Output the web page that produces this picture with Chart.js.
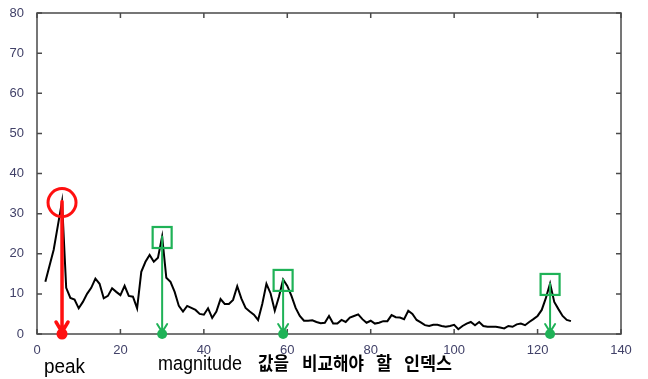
<!DOCTYPE html>
<html>
<head>
<meta charset="utf-8">
<script src="https://cdn.jsdelivr.net/npm/chart.js@4"></script>
<style>
  body { margin: 0; background: #fff; }
  #wrap { width: 648px; height: 379px; position: relative; }
</style>
</head>
<body>
<div id="wrap"><canvas id="magChart"></canvas></div>
<script>
// magnitude per index, starting at index 2
const firstIndex = 2;
const magnitude = [
  13, 17, 21, 27, 33, 11.5, 9, 8.6, 6.4, 8,
  10, 11.5, 13.8, 12.5, 8.9, 9.5, 11.4, 10.5, 9.7, 12,
  9.5, 9.3, 6.4, 15.5, 18, 19.7, 18, 19, 24.3, 14,
  13, 10.5, 7, 5.6, 7, 6.5, 6, 5, 4.8, 6.4,
  4, 5.6, 8.7, 7.5, 7.5, 8.5, 11.9, 8.8, 6.5, 5.6,
  4.8, 3.5, 7.5, 12.5, 10.1, 5.8, 9.3, 13.6, 12, 9.5,
  6.5, 4.5, 3.3, 3.3, 3.4, 3, 2.7, 2.8, 4.5, 2.6,
  2.6, 3.5, 3, 4.1, 4.5, 4.9, 3.7, 2.8, 3.3, 2.6,
  2.8, 3.2, 3.2, 4.7, 4.2, 4.1, 3.7, 5.8, 5, 3.5,
  2.9, 2.2, 2, 2.3, 2.3, 2, 1.8, 2, 2.3, 1.2,
  2, 2.6, 3, 2.2, 3, 2, 1.8, 1.8, 1.8, 1.6,
  1.4, 2, 1.8, 2.4, 2.6, 2.2, 3, 3.7, 4.5, 6,
  9, 12.6, 8, 6.2, 4.5, 3.5, 3.2
];
const xTicks = [0, 20, 40, 60, 80, 100, 120, 140];
const yTicks = [0, 10, 20, 30, 40, 50, 60, 70, 80];

const peakIndex = [6];
const compareIndex = [30, 59, 123];

const peakLabel = 'peak';
const compareLabel = ['magnitude', '값을', '비교해야', '할', '인덱스'];

const points = magnitude.map((v, i) => ({ x: firstIndex + i, y: v }));
const valueAt = idx => magnitude[idx - firstIndex];

const RED = '#ff1010';
const GREEN = '#1fb257';

// frame with inward ticks, then the drawn-on markers
const markup = {
  id: 'markup',
  afterDraw(chart) {
    const { ctx, chartArea: a, scales: { x, y } } = chart;
    ctx.save();

    // box + ticks
    ctx.strokeStyle = '#4a4a4a';
    ctx.lineWidth = 1.5;
    ctx.strokeRect(a.left, a.top, a.right - a.left, a.bottom - a.top);
    ctx.beginPath();
    xTicks.forEach(t => {
      const px = x.getPixelForValue(t);
      ctx.moveTo(px, a.bottom); ctx.lineTo(px, a.bottom - 5);
      ctx.moveTo(px, a.top); ctx.lineTo(px, a.top + 5);
    });
    yTicks.forEach(t => {
      const py = y.getPixelForValue(t);
      ctx.moveTo(a.left, py); ctx.lineTo(a.left + 5, py);
      ctx.moveTo(a.right, py); ctx.lineTo(a.right - 5, py);
    });
    ctx.stroke();

    function arrow(idx, color, w, head, dot) {
      const px = x.getPixelForValue(idx);
      const top = y.getPixelForValue(valueAt(idx));
      const bot = a.bottom;
      ctx.strokeStyle = color;
      ctx.fillStyle = color;
      ctx.lineWidth = w;
      ctx.lineCap = 'round';
      ctx.beginPath();
      ctx.moveTo(px, top); ctx.lineTo(px, bot - 2);
      ctx.moveTo(px - head, bot - head * 2); ctx.lineTo(px, bot - 2);
      ctx.lineTo(px + head, bot - head * 2);
      ctx.stroke();
      ctx.beginPath();
      ctx.arc(px, bot, dot, 0, Math.PI * 2);
      ctx.fill();
    }

    peakIndex.forEach(idx => {
      arrow(idx, RED, 3.5, 6, 5.5);
      ctx.strokeStyle = RED;
      ctx.lineWidth = 3;
      ctx.beginPath();
      ctx.arc(x.getPixelForValue(idx), y.getPixelForValue(valueAt(idx)) + 1, 14, 0, Math.PI * 2);
      ctx.stroke();
    });

    compareIndex.forEach(idx => {
      arrow(idx, GREEN, 2, 5, 5);
      const px = x.getPixelForValue(idx);
      const py = y.getPixelForValue(valueAt(idx)) + 1;
      ctx.strokeStyle = GREEN;
      ctx.lineWidth = 2.2;
      ctx.strokeRect(px - 9.5, py - 10.5, 19, 21);
    });

    // captions under the axis
    ctx.fillStyle = '#000';
    ctx.textBaseline = 'alphabetic';
    ctx.font = '20px "Liberation Sans Narrow", "Liberation Sans", sans-serif';
    ctx.fillText(peakLabel, 44, 373, 41);
    ctx.fillText(compareLabel[0], 158, 370, 84);
    ctx.font = 'bold 18px "Noto Sans CJK KR", sans-serif';
    const kx = [[258, 31], [302, 62], [376, 16], [404, 48]];
    compareLabel.slice(1).forEach((s, i) => ctx.fillText(s, kx[i][0], 370, kx[i][1]));

    ctx.restore();
  }
};

const tickFont = { family: '"Liberation Sans", Arial, sans-serif', size: 13 };
const tickColor = '#414168';

new Chart(document.getElementById('magChart'), {
  type: 'line',
  data: {
    datasets: [{
      data: points,
      borderColor: '#000',
      borderWidth: 2,
      pointRadius: 0,
      tension: 0,
      fill: false
    }]
  },
  options: {
    responsive: true,
    maintainAspectRatio: false,
    animation: false,
    layout: { padding: { top: 13, right: 27, left: 0, bottom: 0 } },
    plugins: { legend: { display: false }, tooltip: { enabled: false } },
    scales: {
      x: {
        type: 'linear', min: 0, max: 140,
        grid: { display: false }, border: { display: false },
        afterBuildTicks: s => { s.ticks = xTicks.map(v => ({ value: v })); },
        ticks: { font: tickFont, color: tickColor, padding: 1, maxRotation: 0 },
        afterFit: s => { s.height = 45; }
      },
      y: {
        min: 0, max: 80,
        grid: { display: false }, border: { display: false },
        afterBuildTicks: s => { s.ticks = yTicks.map(v => ({ value: v })); },
        ticks: { font: tickFont, color: tickColor, padding: 5 },
        afterFit: s => { s.width = 37; }
      }
    }
  },
  plugins: [markup]
});
</script>
</body>
</html>
